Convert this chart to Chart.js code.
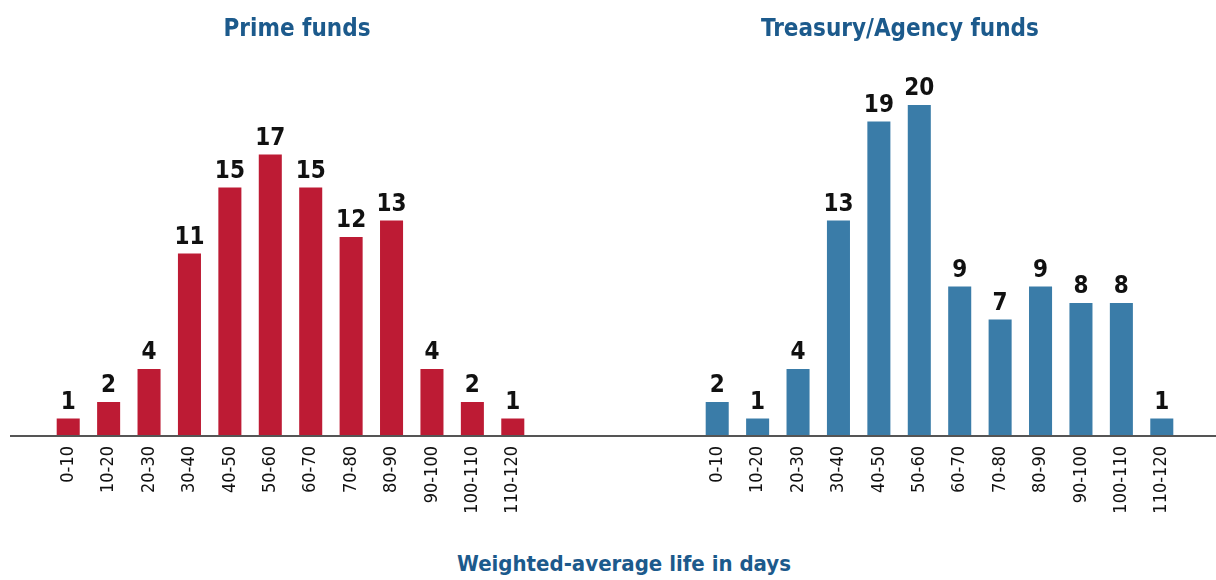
<!DOCTYPE html>
<html>
<head>
<meta charset="utf-8">
<script src="https://cdn.jsdelivr.net/npm/chart.js@4/dist/chart.umd.min.js"></script>
<style>
  body { margin: 0; background: #fff; }
  #wrap { position: relative; width: 1216px; height: 580px; overflow: hidden; }
  canvas { position: absolute; top: 0; }
  .ttl {
    position: absolute;
    font-family: "Liberation Sans Narrow", "DejaVu Sans Condensed", sans-serif;
    font-weight: bold;
    color: #1c5a8c;
    white-space: nowrap;
    transform: translateX(-50%);
  }
</style>
</head>
<body>
<div id="wrap">
  <canvas id="prime" width="608" height="540" style="left:0"></canvas>
  <canvas id="treasury" width="608" height="540" style="left:608px"></canvas>
  <div class="ttl" style="left:297px; top:14px; font-size:24px;">Prime funds</div>
  <div class="ttl" style="left:900px; top:14px; font-size:24px;">Treasury/Agency funds</div>
  <div class="ttl" style="left:624px; top:551px; font-size:22px;">Weighted-average life in days</div>
</div>
<script>
const categories = ["0-10", "10-20", "20-30", "30-40", "40-50", "50-60", "60-70", "70-80", "80-90", "90-100", "100-110", "110-120"];
const primeValues = [1, 2, 4, 11, 15, 17, 15, 12, 13, 4, 2, 1];
const treasuryValues = [2, 1, 4, 13, 19, 20, 9, 7, 9, 8, 8, 1];

const condensed = '"Liberation Sans Narrow", "DejaVu Sans Condensed", sans-serif';

// numbers above bars + the long baseline
const barLabels = {
  id: "barLabels",
  afterDatasetsDraw(chart) {
    const ctx = chart.ctx;
    const meta = chart.getDatasetMeta(0);
    const data = chart.data.datasets[0].data;
    ctx.save();
    ctx.fillStyle = "#111";
    ctx.font = "bold 24px " + condensed;
    ctx.textAlign = "center";
    ctx.textBaseline = "bottom";
    meta.data.forEach(function (bar, i) {
      ctx.fillText(String(data[i]), bar.x, bar.y - 4);
    });
    const y0 = chart.scales.y.getPixelForValue(0);
    ctx.strokeStyle = "#555";
    ctx.lineWidth = 2;
    ctx.beginPath();
    ctx.moveTo(chart.options.baseFrom, y0 + 1);
    ctx.lineTo(chart.width, y0 + 1);
    ctx.stroke();
    ctx.restore();
  }
};

function makeChart(id, values, color, padLeft, padRight, baseFrom) {
  const ctx = document.getElementById(id).getContext("2d");
  return new Chart(ctx, {
    type: "bar",
    data: {
      labels: categories,
      datasets: [{
        data: values,
        backgroundColor: color,
        borderWidth: 0,
        barPercentage: 0.57,
        categoryPercentage: 1
      }]
    },
    options: {
      responsive: false,
      animation: false,
      baseFrom: baseFrom,
      layout: { padding: { left: padLeft, right: padRight, top: 72, bottom: 5 } },
      plugins: { legend: { display: false }, tooltip: { enabled: false } },
      scales: {
        x: {
          grid: { display: false },
          border: { display: false },
          afterFit: function (axis) { axis.height = 100; },
          ticks: {
            autoSkip: false,
            minRotation: 90,
            maxRotation: 90,
            padding: 3,
            color: "#111",
            font: { family: condensed, size: 18 }
          }
        },
        y: {
          display: false,
          min: 0,
          max: 22
        }
      }
    },
    plugins: [barLabels]
  });
}

makeChart("prime", primeValues, "#bd1b34", 48, 75, 10);
makeChart("treasury", treasuryValues, "#3a7ca8", 89, 34, 0);
</script>
</body>
</html>
